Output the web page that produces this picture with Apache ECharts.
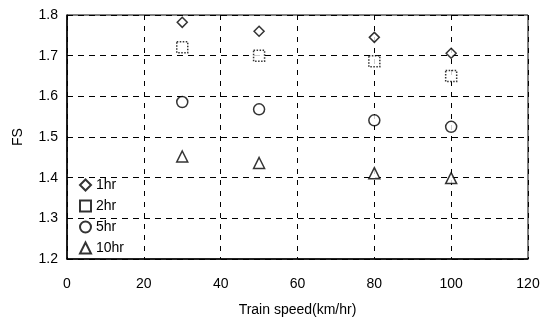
<!DOCTYPE html>
<html>
<head>
    <meta charset="utf-8" />
    <title>FS vs Train speed</title>
    <script src="https://cdn.jsdelivr.net/npm/echarts@6/dist/echarts.min.js"></script>
    <style type="text/css">
        html, body { margin: 0; padding: 0; background: #fff; }
        #chart { width: 550px; height: 320px; }
    </style>
</head>
<body>
    <div id="chart"></div>
    <script>
        // 数据
        var speeds = [30, 50, 80, 100];
        var fs1hr = [1.782, 1.760, 1.745, 1.706];
        var fs2hr = [1.721, 1.700, 1.686, 1.650];
        var fs5hr = [1.586, 1.568, 1.541, 1.525];
        var fs10hr = [1.452, 1.436, 1.411, 1.399];
        var seriesNames = ['1hr', '2hr', '5hr', '10hr'];
        var symbols = ['diamond', 'rect', 'circle', 'triangle'];

        function pairs(ys) {
            return speeds.map(function (x, i) { return [x, ys[i]]; });
        }

        var allData = [fs1hr, fs2hr, fs5hr, fs10hr];
        var sizes = [10, 11, 11, 11];

        var series = allData.map(function (ys, i) {
            return {
                name: seriesNames[i],
                type: 'scatter',
                data: pairs(ys),
                symbol: symbols[i],
                symbolSize: sizes[i],
                itemStyle: {
                    color: '#fff',
                    borderColor: '#000',
                    borderWidth: 1.5,
                    borderType: i === 1 ? 'dotted' : 'solid'
                }
            };
        });

        var chart = echarts.init(document.getElementById('chart'));
        var option = {
            animation: false,
            textStyle: { fontFamily: 'Liberation Sans' },
            grid: {
                left: 67, right: 22, top: 15, bottom: 61,
                outerBoundsMode: 'none',
                containLabel: false,
                show: true, borderColor: '#000', borderWidth: 1
            },
            legend: {
                orient: 'vertical',
                left: 74,
                top: 173,
                itemGap: 7,
                itemWidth: 11,
                itemHeight: 11,
                textStyle: { fontSize: 14, color: '#000' },
                data: seriesNames
            },
            xAxis: {
                type: 'value',
                min: 0, max: 120, interval: 20,
                name: 'Train speed(km/hr)',
                nameLocation: 'middle',
                nameGap: 44,
                nameTextStyle: { fontSize: 14, color: '#000' },
                axisLine: { lineStyle: { color: '#000', width: 1.5 } },
                axisTick: { show: false },
                axisLabel: { fontSize: 14, color: '#000', margin: 18 },
                splitLine: { lineStyle: { color: '#000', type: [5, 6], width: 1 } }
            },
            yAxis: {
                type: 'value',
                min: 1.2, max: 1.8, interval: 0.1,
                name: 'FS',
                nameLocation: 'middle',
                nameGap: 42,
                nameTextStyle: { fontSize: 14, color: '#000' },
                axisLine: { show: true, lineStyle: { color: '#000', width: 1.5 } },
                axisTick: { show: false },
                axisLabel: {
                    fontSize: 14, color: '#000', margin: 9,
                    formatter: function (v) { return v.toFixed(1); }
                },
                splitLine: { lineStyle: { color: '#000', type: [6, 5], width: 1 } }
            },
            series: series
        };
        chart.setOption(option);
    </script>
</body>
</html>
